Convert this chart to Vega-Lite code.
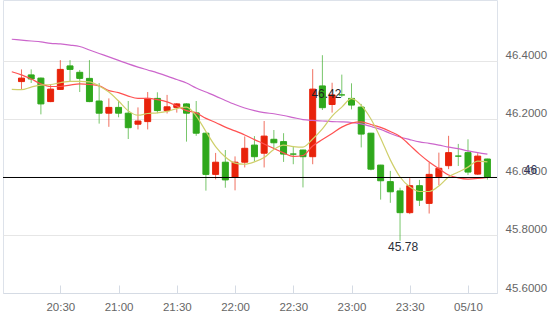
{
  "$schema": "https://vega.github.io/schema/vega-lite/v6.json",
  "width": 494,
  "height": 293,
  "autosize": {"type": "none"},
  "padding": {"left": 3, "top": 0, "right": 53, "bottom": 31},
  "background": "white",
  "config": {"view": {"stroke": "#dde2ea"}, "font": "Liberation Sans"},
  "datasets": {
    "candles": [
      {"t": "2024-05-09T20:10", "o": 46.329, "h": 46.371, "l": 46.302, "c": 46.341},
      {"t": "2024-05-09T20:15", "o": 46.352, "h": 46.371, "l": 46.324, "c": 46.338},
      {"t": "2024-05-09T20:20", "o": 46.341, "h": 46.343, "l": 46.216, "c": 46.252},
      {"t": "2024-05-09T20:25", "o": 46.260, "h": 46.317, "l": 46.258, "c": 46.303},
      {"t": "2024-05-09T20:30", "o": 46.302, "h": 46.403, "l": 46.300, "c": 46.371},
      {"t": "2024-05-09T20:35", "o": 46.383, "h": 46.403, "l": 46.331, "c": 46.371},
      {"t": "2024-05-09T20:40", "o": 46.361, "h": 46.369, "l": 46.293, "c": 46.340},
      {"t": "2024-05-09T20:45", "o": 46.340, "h": 46.403, "l": 46.258, "c": 46.260},
      {"t": "2024-05-09T20:50", "o": 46.262, "h": 46.324, "l": 46.184, "c": 46.220},
      {"t": "2024-05-09T20:55", "o": 46.220, "h": 46.271, "l": 46.173, "c": 46.240},
      {"t": "2024-05-09T21:00", "o": 46.240, "h": 46.263, "l": 46.206, "c": 46.220},
      {"t": "2024-05-09T21:05", "o": 46.220, "h": 46.262, "l": 46.131, "c": 46.170},
      {"t": "2024-05-09T21:10", "o": 46.182, "h": 46.240, "l": 46.164, "c": 46.193},
      {"t": "2024-05-09T21:15", "o": 46.191, "h": 46.293, "l": 46.164, "c": 46.271},
      {"t": "2024-05-09T21:20", "o": 46.271, "h": 46.292, "l": 46.220, "c": 46.229},
      {"t": "2024-05-09T21:25", "o": 46.229, "h": 46.283, "l": 46.219, "c": 46.242},
      {"t": "2024-05-09T21:30", "o": 46.240, "h": 46.255, "l": 46.222, "c": 46.252},
      {"t": "2024-05-09T21:35", "o": 46.252, "h": 46.254, "l": 46.122, "c": 46.220},
      {"t": "2024-05-09T21:40", "o": 46.221, "h": 46.262, "l": 46.142, "c": 46.151},
      {"t": "2024-05-09T21:45", "o": 46.151, "h": 46.153, "l": 45.953, "c": 46.009},
      {"t": "2024-05-09T21:50", "o": 46.009, "h": 46.083, "l": 45.992, "c": 46.051},
      {"t": "2024-05-09T21:55", "o": 46.051, "h": 46.093, "l": 45.963, "c": 45.990},
      {"t": "2024-05-09T22:00", "o": 46.000, "h": 46.071, "l": 45.954, "c": 46.051},
      {"t": "2024-05-09T22:05", "o": 46.051, "h": 46.140, "l": 46.033, "c": 46.099},
      {"t": "2024-05-09T22:10", "o": 46.110, "h": 46.141, "l": 46.054, "c": 46.070},
      {"t": "2024-05-09T22:15", "o": 46.082, "h": 46.193, "l": 46.033, "c": 46.141},
      {"t": "2024-05-09T22:20", "o": 46.130, "h": 46.162, "l": 46.099, "c": 46.118},
      {"t": "2024-05-09T22:25", "o": 46.122, "h": 46.151, "l": 46.052, "c": 46.079},
      {"t": "2024-05-09T22:30", "o": 46.079, "h": 46.107, "l": 46.044, "c": 46.079},
      {"t": "2024-05-09T22:35", "o": 46.093, "h": 46.094, "l": 45.964, "c": 46.070},
      {"t": "2024-05-09T22:40", "o": 46.070, "h": 46.372, "l": 46.044, "c": 46.303},
      {"t": "2024-05-09T22:45", "o": 46.314, "h": 46.420, "l": 46.231, "c": 46.239},
      {"t": "2024-05-09T22:50", "o": 46.250, "h": 46.325, "l": 46.222, "c": 46.283},
      {"t": "2024-05-09T22:55", "o": 46.283, "h": 46.353, "l": 46.276, "c": 46.283},
      {"t": "2024-05-09T23:00", "o": 46.271, "h": 46.323, "l": 46.233, "c": 46.248},
      {"t": "2024-05-09T23:05", "o": 46.241, "h": 46.252, "l": 46.102, "c": 46.148},
      {"t": "2024-05-09T23:10", "o": 46.151, "h": 46.152, "l": 46.023, "c": 46.027},
      {"t": "2024-05-09T23:15", "o": 46.041, "h": 46.042, "l": 45.922, "c": 45.987},
      {"t": "2024-05-09T23:20", "o": 45.984, "h": 46.021, "l": 45.911, "c": 45.949},
      {"t": "2024-05-09T23:25", "o": 45.952, "h": 45.963, "l": 45.780, "c": 45.877},
      {"t": "2024-05-09T23:30", "o": 45.877, "h": 45.996, "l": 45.872, "c": 45.970},
      {"t": "2024-05-09T23:35", "o": 45.970, "h": 45.990, "l": 45.900, "c": 45.920},
      {"t": "2024-05-09T23:40", "o": 45.909, "h": 46.049, "l": 45.874, "c": 46.009},
      {"t": "2024-05-09T23:45", "o": 46.001, "h": 46.084, "l": 45.972, "c": 46.030},
      {"t": "2024-05-09T23:50", "o": 46.039, "h": 46.142, "l": 46.027, "c": 46.084},
      {"t": "2024-05-09T23:55", "o": 46.072, "h": 46.114, "l": 46.038, "c": 46.072},
      {"t": "2024-05-10T00:00", "o": 46.084, "h": 46.130, "l": 46.007, "c": 46.017},
      {"t": "2024-05-10T00:05", "o": 46.010, "h": 46.082, "l": 46.007, "c": 46.072},
      {"t": "2024-05-10T00:10", "o": 46.062, "h": 46.063, "l": 45.991, "c": 46.000}
    ],
    "ma": [
      {"t": "2024-05-09T20:05", "ma5": 46.302, "ma10": 46.363, "ma30": 46.475},
      {"t": "2024-05-09T20:10", "ma5": 46.301, "ma10": 46.352, "ma30": 46.472},
      {"t": "2024-05-09T20:15", "ma5": 46.310, "ma10": 46.338, "ma30": 46.469},
      {"t": "2024-05-09T20:20", "ma5": 46.317, "ma10": 46.321, "ma30": 46.466},
      {"t": "2024-05-09T20:25", "ma5": 46.319, "ma10": 46.312, "ma30": 46.461},
      {"t": "2024-05-09T20:30", "ma5": 46.325, "ma10": 46.312, "ma30": 46.459},
      {"t": "2024-05-09T20:35", "ma5": 46.330, "ma10": 46.317, "ma30": 46.455},
      {"t": "2024-05-09T20:40", "ma5": 46.330, "ma10": 46.321, "ma30": 46.450},
      {"t": "2024-05-09T20:45", "ma5": 46.328, "ma10": 46.319, "ma30": 46.438},
      {"t": "2024-05-09T20:50", "ma5": 46.314, "ma10": 46.314, "ma30": 46.426},
      {"t": "2024-05-09T20:55", "ma5": 46.293, "ma10": 46.298, "ma30": 46.414},
      {"t": "2024-05-09T21:00", "ma5": 46.262, "ma10": 46.291, "ma30": 46.402},
      {"t": "2024-05-09T21:05", "ma5": 46.228, "ma10": 46.279, "ma30": 46.390},
      {"t": "2024-05-09T21:10", "ma5": 46.213, "ma10": 46.271, "ma30": 46.379},
      {"t": "2024-05-09T21:15", "ma5": 46.219, "ma10": 46.271, "ma30": 46.369},
      {"t": "2024-05-09T21:20", "ma5": 46.221, "ma10": 46.267, "ma30": 46.359},
      {"t": "2024-05-09T21:25", "ma5": 46.226, "ma10": 46.259, "ma30": 46.348},
      {"t": "2024-05-09T21:30", "ma5": 46.236, "ma10": 46.245, "ma30": 46.336},
      {"t": "2024-05-09T21:35", "ma5": 46.241, "ma10": 46.229, "ma30": 46.324},
      {"t": "2024-05-09T21:40", "ma5": 46.210, "ma10": 46.221, "ma30": 46.307},
      {"t": "2024-05-09T21:45", "ma5": 46.157, "ma10": 46.202, "ma30": 46.293},
      {"t": "2024-05-09T21:50", "ma5": 46.105, "ma10": 46.188, "ma30": 46.279},
      {"t": "2024-05-09T21:55", "ma5": 46.069, "ma10": 46.172, "ma30": 46.264},
      {"t": "2024-05-09T22:00", "ma5": 46.048, "ma10": 46.159, "ma30": 46.250},
      {"t": "2024-05-09T22:05", "ma5": 46.044, "ma10": 46.145, "ma30": 46.238},
      {"t": "2024-05-09T22:10", "ma5": 46.052, "ma10": 46.129, "ma30": 46.229},
      {"t": "2024-05-09T22:15", "ma5": 46.067, "ma10": 46.114, "ma30": 46.222},
      {"t": "2024-05-09T22:20", "ma5": 46.095, "ma10": 46.098, "ma30": 46.218},
      {"t": "2024-05-09T22:25", "ma5": 46.110, "ma10": 46.083, "ma30": 46.212},
      {"t": "2024-05-09T22:30", "ma5": 46.105, "ma10": 46.071, "ma30": 46.205},
      {"t": "2024-05-09T22:35", "ma5": 46.103, "ma10": 46.074, "ma30": 46.198},
      {"t": "2024-05-09T22:40", "ma5": 46.131, "ma10": 46.107, "ma30": 46.195},
      {"t": "2024-05-09T22:45", "ma5": 46.166, "ma10": 46.129, "ma30": 46.193},
      {"t": "2024-05-09T22:50", "ma5": 46.210, "ma10": 46.150, "ma30": 46.191},
      {"t": "2024-05-09T22:55", "ma5": 46.241, "ma10": 46.172, "ma30": 46.190},
      {"t": "2024-05-09T23:00", "ma5": 46.270, "ma10": 46.186, "ma30": 46.188},
      {"t": "2024-05-09T23:05", "ma5": 46.247, "ma10": 46.190, "ma30": 46.183},
      {"t": "2024-05-09T23:10", "ma5": 46.200, "ma10": 46.181, "ma30": 46.174},
      {"t": "2024-05-09T23:15", "ma5": 46.134, "ma10": 46.171, "ma30": 46.164},
      {"t": "2024-05-09T23:20", "ma5": 46.059, "ma10": 46.157, "ma30": 46.150},
      {"t": "2024-05-09T23:25", "ma5": 46.000, "ma10": 46.140, "ma30": 46.138},
      {"t": "2024-05-09T23:30", "ma5": 45.966, "ma10": 46.110, "ma30": 46.129},
      {"t": "2024-05-09T23:35", "ma5": 45.950, "ma10": 46.079, "ma30": 46.121},
      {"t": "2024-05-09T23:40", "ma5": 45.950, "ma10": 46.052, "ma30": 46.116},
      {"t": "2024-05-09T23:45", "ma5": 45.969, "ma10": 46.029, "ma30": 46.110},
      {"t": "2024-05-09T23:50", "ma5": 46.000, "ma10": 46.007, "ma30": 46.103},
      {"t": "2024-05-09T23:55", "ma5": 46.017, "ma10": 45.997, "ma30": 46.098},
      {"t": "2024-05-10T00:00", "ma5": 46.034, "ma10": 45.993, "ma30": 46.090},
      {"t": "2024-05-10T00:05", "ma5": 46.055, "ma10": 45.995, "ma30": 46.084},
      {"t": "2024-05-10T00:10", "ma5": 46.052, "ma10": 45.999, "ma30": 46.079}
    ]
  },
  "layer": [
    {
      "data": {"name": "candles"},
      "mark": {"type": "rule", "strokeWidth": 1, "opacity": 0.65},
      "encoding": {
        "x": {
          "field": "t", "type": "temporal",
          "scale": {"domain": [{"year": 2024, "month": 5, "date": 9, "hours": 20, "minutes": 3, "seconds": 3}, {"year": 2024, "month": 5, "date": 10, "hours": 0, "minutes": 12, "seconds": 22}], "nice": false},
          "axis": {
            "title": null, "grid": false,
            "values": [
              {"year": 2024, "month": 5, "date": 9, "hours": 20, "minutes": 30},
              {"year": 2024, "month": 5, "date": 9, "hours": 21, "minutes": 0},
              {"year": 2024, "month": 5, "date": 9, "hours": 21, "minutes": 30},
              {"year": 2024, "month": 5, "date": 9, "hours": 22, "minutes": 0},
              {"year": 2024, "month": 5, "date": 9, "hours": 22, "minutes": 30},
              {"year": 2024, "month": 5, "date": 9, "hours": 23, "minutes": 0},
              {"year": 2024, "month": 5, "date": 9, "hours": 23, "minutes": 30},
              {"year": 2024, "month": 5, "date": 10, "hours": 0, "minutes": 0}
            ],
            "labelExpr": "hours(datum.value) == 0 ? timeFormat(datum.value, '%m/%d') : timeFormat(datum.value, '%H:%M')",
            "tickSize": -8, "tickColor": "#d5dbe4", "domainColor": "#d5dbe4",
            "labelPadding": 16, "labelColor": "#666666", "labelFontSize": 11.5, "labelFont": "Liberation Sans"
          }
        },
        "y": {
          "field": "l", "type": "quantitative",
          "scale": {"domain": [45.6, 46.6103], "nice": false, "zero": false},
          "axis": {
            "title": null, "orient": "right", "values": [45.6, 45.8, 46.0, 46.2, 46.4],
            "format": ".4f", "grid": true, "gridColor": "#e6e6e6", "domain": false, "ticks": false,
            "labelPadding": 8, "labelBaseline": "bottom", "labelColor": "#666666", "labelFontSize": 11.5, "labelFont": "Liberation Sans"
          }
        },
        "y2": {"field": "h"},
        "color": {"condition": {"test": "datum.c > datum.o", "value": "#e8230b"}, "value": "#2fa81c"}
      }
    },
    {
      "data": {"name": "candles"},
      "mark": {"type": "bar", "size": 6, "strokeWidth": 1},
      "encoding": {
        "x": {"field": "t", "type": "temporal"},
        "y": {"field": "o", "type": "quantitative"},
        "y2": {"field": "c"},
        "color": {"condition": {"test": "datum.c > datum.o", "value": "#e8230b"}, "value": "#2fa81c"},
        "stroke": {"condition": {"test": "datum.c > datum.o", "value": "#e8230b"}, "value": "#2fa81c"}
      }
    },
    {
      "data": {"name": "ma"},
      "mark": {"type": "line", "strokeWidth": 1.2, "color": "#cc66cc", "interpolate": "monotone"},
      "encoding": {
        "x": {"field": "t", "type": "temporal"},
        "y": {"field": "ma30", "type": "quantitative"}
      }
    },
    {
      "data": {"name": "ma"},
      "mark": {"type": "line", "strokeWidth": 1.2, "color": "#ff5252", "interpolate": "monotone"},
      "encoding": {
        "x": {"field": "t", "type": "temporal"},
        "y": {"field": "ma10", "type": "quantitative"}
      }
    },
    {
      "data": {"name": "ma"},
      "mark": {"type": "line", "strokeWidth": 1.2, "color": "#cfcf6a", "interpolate": "monotone"},
      "encoding": {
        "x": {"field": "t", "type": "temporal"},
        "y": {"field": "ma5", "type": "quantitative"}
      }
    },
    {
      "data": {"values": [{"p": 46.0}]},
      "mark": {"type": "rule", "color": "#000000", "strokeWidth": 1, "yOffset": 0.5},
      "encoding": {
        "y": {"field": "p", "type": "quantitative"}
      }
    },
    {
      "data": {"values": [{"t": "2024-05-09T22:45", "p": 46.42, "label": "46.42"}]},
      "mark": {"type": "text", "fontSize": 12, "color": "#222222", "baseline": "middle", "align": "center", "dx": 4, "dy": 39, "font": "Liberation Sans"},
      "encoding": {
        "x": {"field": "t", "type": "temporal"},
        "y": {"field": "p", "type": "quantitative"},
        "text": {"field": "label"}
      }
    },
    {
      "data": {"values": [{"t": "2024-05-09T23:25", "p": 45.78, "label": "45.78"}]},
      "mark": {"type": "text", "fontSize": 12, "color": "#2b2f3a", "baseline": "top", "align": "center", "dx": 3, "dy": 1, "font": "Liberation Sans"},
      "encoding": {
        "x": {"field": "t", "type": "temporal"},
        "y": {"field": "p", "type": "quantitative"},
        "text": {"field": "label"}
      }
    },
    {
      "data": {"values": [{"t": "2024-05-10T00:10", "p": 46.0, "label": "46"}]},
      "mark": {"type": "text", "fontSize": 12, "color": "#33335a", "baseline": "bottom", "align": "center", "dx": 43, "font": "Liberation Sans"},
      "encoding": {
        "x": {"field": "t", "type": "temporal"},
        "y": {"field": "p", "type": "quantitative"},
        "text": {"field": "label"}
      }
    }
  ]
}
